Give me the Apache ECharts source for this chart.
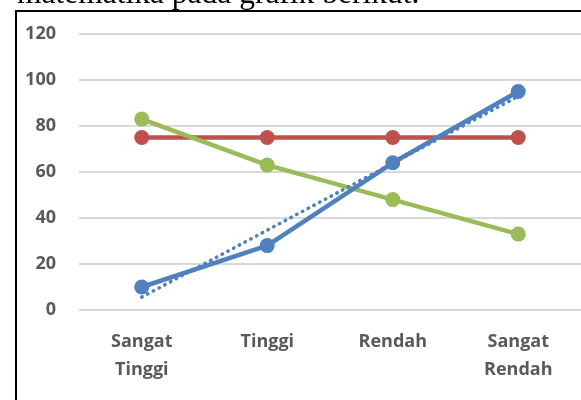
<!DOCTYPE html>
<html>
<head>
<meta charset="utf-8">
<script src="https://cdn.jsdelivr.net/npm/echarts@6/dist/echarts.min.js"></script>
<style>
    html, body { margin: 0; padding: 0; background: #fff; }
    #chart { width: 581px; height: 400px; }
</style>
</head>
<body>
<div id="chart"></div>
<script>
    // kategori sumbu x
    var categories = ['Sangat\nTinggi', 'Tinggi', 'Rendah', 'Sangat\nRendah'];
    // nilai tiap seri
    var seriesBlue = [10, 28, 64, 95];
    var seriesRed = [75, 75, 75, 75];
    var seriesGreen = [83, 63, 48, 33];
    // garis tren (linear) seri biru
    var trendBlue = [5.6, 34.7, 63.8, 92.9];
    var yTicks = [0, 20, 40, 60, 80, 100, 120];

    var chart = echarts.init(document.getElementById('chart'));

    function lineSeries(name, data, color, z) {
        return {
            name: name,
            type: 'line',
            data: data,
            z: z,
            symbol: 'circle',
            symbolSize: 15,
            lineStyle: { color: color, width: 4.5 },
            itemStyle: { color: color },
            animation: false
        };
    }

    chart.setOption({
        backgroundColor: '#fff',
        animation: false,
        grid: { left: 79, right: -1, top: 34, bottom: 90 },
        xAxis: {
            type: 'category',
            data: categories,
            boundaryGap: true,
            axisLine: { show: false },
            axisTick: { show: false },
            axisLabel: {
                color: '#595959',
                fontFamily: 'Open Sans',
                fontWeight: 'bold',
                fontSize: 18,
                lineHeight: 28,
                margin: 18
            }
        },
        yAxis: {
            type: 'value',
            min: yTicks[0],
            max: yTicks[yTicks.length - 1],
            interval: 20,
            axisLine: { show: false },
            axisTick: { show: false },
            splitLine: { lineStyle: { color: '#d9d9d9', width: 2 } },
            axisLabel: {
                color: '#595959',
                fontFamily: 'Open Sans',
                fontWeight: 'bold',
                fontSize: 18,
                margin: 23
            }
        },
        graphic: [
            {
                type: 'text',
                left: 17,
                top: -21,
                style: {
                    text: 'matematika pada grafik berikut.',
                    font: '31.5px "Liberation Serif"',
                    fill: '#000'
                }
            },
            {
                type: 'rect',
                shape: { x: 16, y: 11, width: 600, height: 420 },
                style: { fill: 'none', stroke: '#000', lineWidth: 2 }
            }
        ],
        series: [
            lineSeries('Merah', seriesRed, '#c0504d', 2),
            lineSeries('Hijau', seriesGreen, '#9bbb59', 3),
            lineSeries('Biru', seriesBlue, '#4f81bd', 4),
            {
                name: 'Tren Biru',
                type: 'line',
                data: trendBlue,
                z: 5,
                symbol: 'none',
                lineStyle: { color: '#4f81bd', width: 3.5, type: [0.5, 6], cap: 'round' },
                animation: false
            }
        ]
    });
</script>
</body>
</html>
